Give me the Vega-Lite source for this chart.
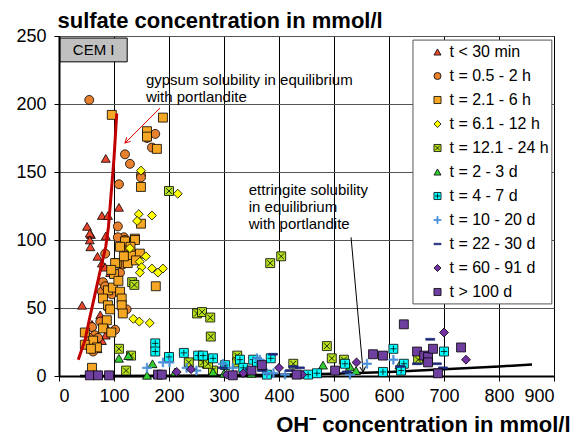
{
  "$schema": "https://vega.github.io/schema/vega-lite/v6.json",
  "width": 495,
  "height": 340,
  "autosize": "none",
  "padding": {"left": 59, "top": 36, "right": 29, "bottom": 60},
  "background": "white",
  "config": {
    "font": "Liberation Sans",
    "view": {"stroke": "#000", "strokeWidth": 1},
    "axis": {
      "domainColor": "#000", "domainWidth": 2, "tickColor": "#000", "tickSize": 5,
      "labelFontSize": 18, "labelColor": "#000", "labelFont": "Liberation Sans",
      "gridWidth": 1, "titleFont": "Liberation Sans", "titleFontSize": 22,
      "titleFontWeight": "bold", "titleColor": "#000"
    }
  },
  "datasets": {
    "pts": [
      {"t":"t < 30 min","x":85,"y":160},{"t":"t < 30 min","x":109,"y":124},{"t":"t < 30 min","x":78,"y":118},{"t":"t < 30 min","x":89,"y":118},{"t":"t < 30 min","x":51,"y":110},{"t":"t < 30 min","x":58,"y":104},{"t":"t < 30 min","x":85,"y":103},{"t":"t < 30 min","x":56,"y":105},{"t":"t < 30 min","x":56,"y":100},{"t":"t < 30 min","x":57,"y":95},{"t":"t < 30 min","x":70,"y":88},{"t":"t < 30 min","x":78,"y":83},{"t":"t < 30 min","x":84,"y":80},{"t":"t < 30 min","x":93,"y":76},{"t":"t < 30 min","x":42,"y":52},{"t":"t < 30 min","x":75,"y":45},{"t":"t < 30 min","x":60,"y":38},{"t":"t < 30 min","x":85,"y":30},{"t":"t < 30 min","x":70,"y":20},{"t":"t < 30 min","x":78,"y":26},{"t":"t < 30 min","x":88,"y":35},{"t":"t < 30 min","x":66,"y":22},
      {"t":"t = 0.5 - 2 h","x":55,"y":203},{"t":"t = 0.5 - 2 h","x":120,"y":163},{"t":"t = 0.5 - 2 h","x":129,"y":156},{"t":"t = 0.5 - 2 h","x":175,"y":178},{"t":"t = 0.5 - 2 h","x":160,"y":175},{"t":"t = 0.5 - 2 h","x":169,"y":168},{"t":"t = 0.5 - 2 h","x":149,"y":148},{"t":"t = 0.5 - 2 h","x":149,"y":146},{"t":"t = 0.5 - 2 h","x":109,"y":141},{"t":"t = 0.5 - 2 h","x":107,"y":110},{"t":"t = 0.5 - 2 h","x":118,"y":102},{"t":"t = 0.5 - 2 h","x":84,"y":90},{"t":"t = 0.5 - 2 h","x":107,"y":102},{"t":"t = 0.5 - 2 h","x":111,"y":76},{"t":"t = 0.5 - 2 h","x":80,"y":69},{"t":"t = 0.5 - 2 h","x":78,"y":62},{"t":"t = 0.5 - 2 h","x":84,"y":66},{"t":"t = 0.5 - 2 h","x":96,"y":60},{"t":"t = 0.5 - 2 h","x":123,"y":49},{"t":"t = 0.5 - 2 h","x":102,"y":34},{"t":"t = 0.5 - 2 h","x":60,"y":36},{"t":"t = 0.5 - 2 h","x":75,"y":40},{"t":"t = 0.5 - 2 h","x":65,"y":30},{"t":"t = 0.5 - 2 h","x":51,"y":23},{"t":"t = 0.5 - 2 h","x":71,"y":28},{"t":"t = 0.5 - 2 h","x":123,"y":93},{"t":"t = 0.5 - 2 h","x":116,"y":82},{"t":"t = 0.5 - 2 h","x":55,"y":28},{"t":"t = 0.5 - 2 h","x":62,"y":18},{"t":"t = 0.5 - 2 h","x":90,"y":50},{"t":"t = 0.5 - 2 h","x":120,"y":100},
      {"t":"t = 2.1 - 6 h","x":96,"y":192},{"t":"t = 2.1 - 6 h","x":189,"y":190},{"t":"t = 2.1 - 6 h","x":160,"y":180},{"t":"t = 2.1 - 6 h","x":160,"y":176},{"t":"t = 2.1 - 6 h","x":178,"y":167},{"t":"t = 2.1 - 6 h","x":149,"y":139},{"t":"t = 2.1 - 6 h","x":149,"y":112},{"t":"t = 2.1 - 6 h","x":138,"y":101},{"t":"t = 2.1 - 6 h","x":60,"y":6},{"t":"t = 2.1 - 6 h","x":176,"y":66},{"t":"t = 2.1 - 6 h","x":120,"y":99},{"t":"t = 2.1 - 6 h","x":138,"y":100},{"t":"t = 2.1 - 6 h","x":105,"y":83},{"t":"t = 2.1 - 6 h","x":125,"y":83},{"t":"t = 2.1 - 6 h","x":133,"y":89},{"t":"t = 2.1 - 6 h","x":147,"y":90},{"t":"t = 2.1 - 6 h","x":111,"y":95},{"t":"t = 2.1 - 6 h","x":89,"y":63},{"t":"t = 2.1 - 6 h","x":98,"y":65},{"t":"t = 2.1 - 6 h","x":111,"y":62},{"t":"t = 2.1 - 6 h","x":80,"y":57},{"t":"t = 2.1 - 6 h","x":89,"y":52},{"t":"t = 2.1 - 6 h","x":114,"y":57},{"t":"t = 2.1 - 6 h","x":114,"y":52},{"t":"t = 2.1 - 6 h","x":93,"y":49},{"t":"t = 2.1 - 6 h","x":116,"y":46},{"t":"t = 2.1 - 6 h","x":87,"y":41},{"t":"t = 2.1 - 6 h","x":80,"y":35},{"t":"t = 2.1 - 6 h","x":95,"y":32},{"t":"t = 2.1 - 6 h","x":47,"y":32},{"t":"t = 2.1 - 6 h","x":62,"y":26},{"t":"t = 2.1 - 6 h","x":47,"y":23},{"t":"t = 2.1 - 6 h","x":69,"y":21},{"t":"t = 2.1 - 6 h","x":58,"y":20},{"t":"t = 2.1 - 6 h","x":102,"y":83},{"t":"t = 2.1 - 6 h","x":100,"y":75},{"t":"t = 2.1 - 6 h","x":108,"y":70},{"t":"t = 2.1 - 6 h","x":95,"y":78},{"t":"t = 2.1 - 6 h","x":130,"y":95},{"t":"t = 2.1 - 6 h","x":118,"y":88},{"t":"t = 2.1 - 6 h","x":140,"y":85},
      {"t":"t = 6.1 - 12 h","x":149,"y":151},{"t":"t = 6.1 - 12 h","x":216,"y":134},{"t":"t = 6.1 - 12 h","x":145,"y":119},{"t":"t = 6.1 - 12 h","x":169,"y":118},{"t":"t = 6.1 - 12 h","x":142,"y":114},{"t":"t = 6.1 - 12 h","x":129,"y":94},{"t":"t = 6.1 - 12 h","x":158,"y":88},{"t":"t = 6.1 - 12 h","x":147,"y":84},{"t":"t = 6.1 - 12 h","x":150,"y":80},{"t":"t = 6.1 - 12 h","x":147,"y":76},{"t":"t = 6.1 - 12 h","x":169,"y":79},{"t":"t = 6.1 - 12 h","x":180,"y":76},{"t":"t = 6.1 - 12 h","x":189,"y":79},{"t":"t = 6.1 - 12 h","x":135,"y":42},{"t":"t = 6.1 - 12 h","x":146,"y":40},{"t":"t = 6.1 - 12 h","x":165,"y":39},
      {"t":"t = 12.1 - 24 h","x":200,"y":136},{"t":"t = 12.1 - 24 h","x":251,"y":46},{"t":"t = 12.1 - 24 h","x":260,"y":47},{"t":"t = 12.1 - 24 h","x":275,"y":43},{"t":"t = 12.1 - 24 h","x":276,"y":29},{"t":"t = 12.1 - 24 h","x":133,"y":69},{"t":"t = 12.1 - 24 h","x":137,"y":67},{"t":"t = 12.1 - 24 h","x":109,"y":20},{"t":"t = 12.1 - 24 h","x":131,"y":15},{"t":"t = 12.1 - 24 h","x":122,"y":4},{"t":"t = 12.1 - 24 h","x":236,"y":10},{"t":"t = 12.1 - 24 h","x":269,"y":9},{"t":"t = 12.1 - 24 h","x":280,"y":4},{"t":"t = 12.1 - 24 h","x":324,"y":15},{"t":"t = 12.1 - 24 h","x":324,"y":10},{"t":"t = 12.1 - 24 h","x":262,"y":10},{"t":"t = 12.1 - 24 h","x":271,"y":9},{"t":"t = 12.1 - 24 h","x":384,"y":83},{"t":"t = 12.1 - 24 h","x":404,"y":88},{"t":"t = 12.1 - 24 h","x":426,"y":9},{"t":"t = 12.1 - 24 h","x":487,"y":22},{"t":"t = 12.1 - 24 h","x":496,"y":13},{"t":"t = 12.1 - 24 h","x":518,"y":12},{"t":"t = 12.1 - 24 h","x":653,"y":12},
      {"t":"t = 2 - 3 d","x":109,"y":13},{"t":"t = 2 - 3 d","x":126,"y":15},{"t":"t = 2 - 3 d","x":170,"y":9},{"t":"t = 2 - 3 d","x":160,"y":0.5},{"t":"t = 2 - 3 d","x":211,"y":3},{"t":"t = 2 - 3 d","x":280,"y":3},{"t":"t = 2 - 3 d","x":300,"y":2},{"t":"t = 2 - 3 d","x":350,"y":2},{"t":"t = 2 - 3 d","x":480,"y":8},{"t":"t = 2 - 3 d","x":529,"y":7},{"t":"t = 2 - 3 d","x":540,"y":4},{"t":"t = 2 - 3 d","x":619,"y":8},
      {"t":"t = 4 - 7 d","x":175,"y":24},{"t":"t = 4 - 7 d","x":175,"y":18},{"t":"t = 4 - 7 d","x":200,"y":14},{"t":"t = 4 - 7 d","x":227,"y":17},{"t":"t = 4 - 7 d","x":253,"y":15},{"t":"t = 4 - 7 d","x":262,"y":15},{"t":"t = 4 - 7 d","x":280,"y":13},{"t":"t = 4 - 7 d","x":329,"y":12},{"t":"t = 4 - 7 d","x":353,"y":12},{"t":"t = 4 - 7 d","x":360,"y":10},{"t":"t = 4 - 7 d","x":385,"y":13},{"t":"t = 4 - 7 d","x":378,"y":1},{"t":"t = 4 - 7 d","x":302,"y":8},{"t":"t = 4 - 7 d","x":335,"y":6},{"t":"t = 4 - 7 d","x":453,"y":1},{"t":"t = 4 - 7 d","x":469,"y":2},{"t":"t = 4 - 7 d","x":520,"y":9},{"t":"t = 4 - 7 d","x":589,"y":3},{"t":"t = 4 - 7 d","x":608,"y":20},{"t":"t = 4 - 7 d","x":627,"y":9},{"t":"t = 4 - 7 d","x":622,"y":4},{"t":"t = 4 - 7 d","x":700,"y":18},
      {"t":"t = 10 - 20 d","x":160,"y":6},{"t":"t = 10 - 20 d","x":189,"y":10},{"t":"t = 10 - 20 d","x":201,"y":10},{"t":"t = 10 - 20 d","x":232,"y":6},{"t":"t = 10 - 20 d","x":250,"y":4},{"t":"t = 10 - 20 d","x":298,"y":9},{"t":"t = 10 - 20 d","x":316,"y":6},{"t":"t = 10 - 20 d","x":360,"y":13},{"t":"t = 10 - 20 d","x":365,"y":12},{"t":"t = 10 - 20 d","x":390,"y":2},{"t":"t = 10 - 20 d","x":411,"y":1},{"t":"t = 10 - 20 d","x":378,"y":2},{"t":"t = 10 - 20 d","x":529,"y":1},{"t":"t = 10 - 20 d","x":560,"y":9},{"t":"t = 10 - 20 d","x":608,"y":12},
      {"t":"t = 22 - 30 d","x":298,"y":6},{"t":"t = 22 - 30 d","x":347,"y":5},{"t":"t = 22 - 30 d","x":369,"y":4},{"t":"t = 22 - 30 d","x":389,"y":16},{"t":"t = 22 - 30 d","x":426,"y":7},{"t":"t = 22 - 30 d","x":420,"y":4},{"t":"t = 22 - 30 d","x":438,"y":6},{"t":"t = 22 - 30 d","x":523,"y":3},{"t":"t = 22 - 30 d","x":620,"y":7},{"t":"t = 22 - 30 d","x":651,"y":9},{"t":"t = 22 - 30 d","x":675,"y":27},{"t":"t = 22 - 30 d","x":687,"y":9},{"t":"t = 22 - 30 d","x":698,"y":6},
      {"t":"t = 60 - 91 d","x":214,"y":3},{"t":"t = 60 - 91 d","x":240,"y":5},{"t":"t = 60 - 91 d","x":305,"y":1},{"t":"t = 60 - 91 d","x":335,"y":2},{"t":"t = 60 - 91 d","x":400,"y":6},{"t":"t = 60 - 91 d","x":442,"y":1},{"t":"t = 60 - 91 d","x":541,"y":10},{"t":"t = 60 - 91 d","x":700,"y":32},{"t":"t = 60 - 91 d","x":740,"y":12},
      {"t":"t > 100 d","x":56,"y":0.5},{"t":"t > 100 d","x":71,"y":0.5},{"t":"t > 100 d","x":91,"y":0.5},{"t":"t > 100 d","x":180,"y":1},{"t":"t > 100 d","x":187,"y":1},{"t":"t > 100 d","x":316,"y":0.5},{"t":"t > 100 d","x":350,"y":4},{"t":"t > 100 d","x":369,"y":8},{"t":"t > 100 d","x":432,"y":1},{"t":"t > 100 d","x":502,"y":4},{"t":"t > 100 d","x":571,"y":16},{"t":"t > 100 d","x":589,"y":15},{"t":"t > 100 d","x":627,"y":38},{"t":"t > 100 d","x":651,"y":18},{"t":"t > 100 d","x":664,"y":15},{"t":"t > 100 d","x":671,"y":14},{"t":"t > 100 d","x":671,"y":10},{"t":"t > 100 d","x":680,"y":20},{"t":"t > 100 d","x":689,"y":2},{"t":"t > 100 d","x":731,"y":21}
    ],
    "gyps": [{"x":35,"y":12},{"x":47,"y":26},{"x":56,"y":43},{"x":67,"y":63},{"x":78,"y":83},{"x":85,"y":95},{"x":90,"y":110},{"x":95,"y":135},{"x":100,"y":160},{"x":105,"y":193}],
    "ettr": [{"x":38,"y":0},{"x":200,"y":0.1},{"x":300,"y":0.4},{"x":400,"y":0.9},{"x":500,"y":1.7},{"x":600,"y":3},{"x":700,"y":5},{"x":800,"y":7},{"x":860,"y":8.5}],
    "arrows": [
      {"n":"g","x":183.6,"y":197,"x2":120,"y2":171.3,"a":225},
      {"n":"e","x":531,"y":102,"x2":553,"y2":3,"a":175}
    ],
    "boxes": [
      {"n":"cem","x":2,"x2":124,"y":231,"y2":248.5},
      {"n":"leg","x":643.6,"x2":896,"y":53,"y2":247}
    ],
    "notes": [
      {"n":"gyp","x":158,"y":222.8,"label":"gypsum solubility in equilibrium\nwith portlandite"},
      {"n":"ett","x":345,"y":142,"label":"ettringite solubility\nin equilibrium\nwith portlandite"}
    ]
  },
  "layer": [
    {
      "data": {"name": "boxes"},
      "mark": {"type": "rect", "stroke": "#000", "strokeWidth": 1},
      "encoding": {
        "x": {"field": "x", "type": "quantitative", "scale": {"domain": [0, 900], "nice": false, "zero": false},
          "axis": {"values": [0,100,200,300,400,500,600,700,800,900], "grid": true, "gridColor": "#000", "labelPadding": 6,
            "title": "OH⁻ concentration in mmol/l", "titleX": 511, "titleY": 55, "titleAlign": "right", "titleBaseline": "alphabetic", "titleAnchor": null}},
        "x2": {"field": "x2"},
        "y": {"field": "y", "type": "quantitative", "scale": {"domain": [0, 250], "nice": false, "zero": false},
          "axis": {"values": [0,50,100,150,200,250], "grid": true, "gridColor": "#555", "labelPadding": 8,
            "title": "sulfate concentration in mmol/l", "titleAngle": 0, "titleX": -2, "titleY": -9, "titleAlign": "left", "titleBaseline": "alphabetic", "titleAnchor": null}},
        "y2": {"field": "y2"},
        "fill": {"condition": {"test": "datum.n === 'cem'", "value": "#C0C0C0"}, "value": "#FFFFFF"},
        "stroke": {"condition": {"test": "datum.n === 'cem'", "value": "#000"}, "value": "#555"}
      }
    },
    {
      "data": {"values": [{"x": 63, "y": 239.7, "label": "CEM I"}]},
      "mark": {"type": "text", "fontSize": 15, "align": "center", "baseline": "middle", "color": "#000"},
      "encoding": {"x": {"field": "x", "type": "quantitative"}, "y": {"field": "y", "type": "quantitative"}, "text": {"field": "label"}}
    },
    {
      "data": {"name": "ettr"},
      "mark": {"type": "line", "color": "#000", "strokeWidth": 2.5},
      "encoding": {"x": {"field": "x", "type": "quantitative"}, "y": {"field": "y", "type": "quantitative"}}
    },
    {
      "data": {"name": "arrows"},
      "mark": {"type": "rule", "strokeWidth": 1},
      "encoding": {
        "x": {"field": "x", "type": "quantitative"}, "y": {"field": "y", "type": "quantitative"},
        "x2": {"field": "x2"}, "y2": {"field": "y2"},
        "color": {"condition": {"test": "datum.n === 'g'", "value": "#E00000"}, "value": "#000"}
      }
    },
    {
      "data": {"name": "arrows"},
      "mark": {"type": "point", "shape": "M-0.55,1L0,0L0.55,1", "filled": false, "size": 110, "strokeWidth": 1, "opacity": 1},
      "encoding": {
        "x": {"field": "x2", "type": "quantitative"}, "y": {"field": "y2", "type": "quantitative"},
        "angle": {"field": "a", "type": "quantitative", "scale": null},
        "stroke": {"condition": {"test": "datum.n === 'g'", "value": "#E00000"}, "value": "#000"}
      }
    },
    {
      "data": {"name": "pts"},
      "mark": {"type": "point", "filled": true, "size": 80, "strokeWidth": 0.8, "opacity": 1},
      "encoding": {
        "x": {"field": "x", "type": "quantitative"},
        "y": {"field": "y", "type": "quantitative"},
        "shape": {"field": "t", "type": "nominal", "scale": {
          "domain": ["t < 30 min","t = 0.5 - 2 h","t = 2.1 - 6 h","t = 6.1 - 12 h","t = 12.1 - 24 h","t = 2 - 3 d","t = 4 - 7 d","t = 10 - 20 d","t = 22 - 30 d","t = 60 - 91 d","t > 100 d"],
          "range": ["triangle-up","circle","square","diamond",
            "M-1,-1H1V1H-1Z M-0.65,-0.65L0.65,0.65 M0.65,-0.65L-0.65,0.65",
            "triangle-up",
            "M-1,-1H1V1H-1Z M-0.7,0H0.7 M0,-0.7V0.7",
            "M-1,-0.15H-0.15V-1H0.15V-0.15H1V0.15H0.15V1H-0.15V0.15H-1Z",
            "M-1,-0.2H1V0.2H-1Z",
            "diamond","square"]}},
        "fill": {"field": "t", "type": "nominal", "scale": {
          "domain": ["t < 30 min","t = 0.5 - 2 h","t = 2.1 - 6 h","t = 6.1 - 12 h","t = 12.1 - 24 h","t = 2 - 3 d","t = 4 - 7 d","t = 10 - 20 d","t = 22 - 30 d","t = 60 - 91 d","t > 100 d"],
          "range": ["#E8452C","#E8812E","#F5A623","#FFFF00","#B6E11E","#33CC33","#00FFFF","#4A8FD8","#1F2A7A","#7030A0","#6F3FA0"]}},
        "stroke": {"field": "t", "type": "nominal", "scale": {
          "domain": ["t < 30 min","t = 0.5 - 2 h","t = 2.1 - 6 h","t = 6.1 - 12 h","t = 12.1 - 24 h","t = 2 - 3 d","t = 4 - 7 d","t = 10 - 20 d","t = 22 - 30 d","t = 60 - 91 d","t > 100 d"],
          "range": ["#000","#000","#000","#000","#000","#000","#000","#4A8FD8","#1F2A7A","#000","#000"]},
          "legend": {"orient": "none", "legendX": 370.5, "legendY": 8, "title": null, "padding": 0, "symbolSize": 50, "symbolStrokeWidth": 0.8,
            "labelFontSize": 16, "labelColor": "#000", "labelOffset": 4, "rowPadding": 8, "symbolOffset": 0}}
      }
    },
    {
      "data": {"name": "gyps"},
      "mark": {"type": "line", "color": "#C00000", "strokeWidth": 3},
      "encoding": {"x": {"field": "x", "type": "quantitative"}, "y": {"field": "y", "type": "quantitative"}}
    },
    {
      "data": {"name": "notes"},
      "mark": {"type": "text", "fontSize": 15, "align": "left", "baseline": "top", "lineBreak": "\n", "color": "#000"},
      "encoding": {
        "x": {"field": "x", "type": "quantitative"}, "y": {"field": "y", "type": "quantitative"},
        "text": {"field": "label"},
        "lineHeight": {"condition": {"test": "datum.n === 'gyp'", "value": 17}, "value": 18}
      }
    }
  ]
}
